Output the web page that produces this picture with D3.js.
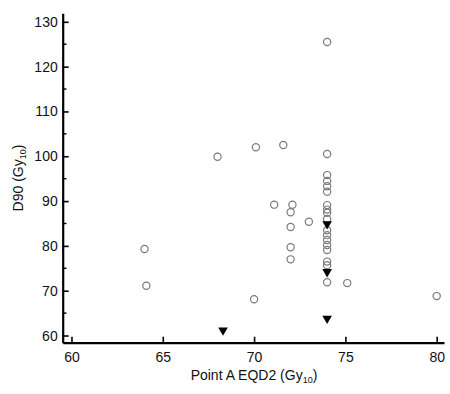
<!DOCTYPE html>
<html>
<head>
<meta charset="utf-8">
<script src="https://cdn.jsdelivr.net/npm/d3@7"></script>
<style>
  body { margin: 0; background: #fff; }
  text { font-family: "Liberation Sans", Arial, sans-serif; }
</style>
</head>
<body>
<div id="chart"></div>
<script>
"use strict";

// open circles (x = Point A EQD2, y = D90)
const circleX = [64, 64.1, 68, 70.1, 70, 71.6, 71.1, 72.1, 72, 72, 72, 72, 73, 75.1, 80,
                 74, 74, 74, 74, 74, 74, 74, 74, 74, 74, 74, 74, 74, 74, 74, 74, 74, 74];
const circleY = [79.3, 71.1, 99.9, 102, 68.1, 102.5, 89.2, 89.2, 87.5, 84.2, 79.7, 77, 85.4, 71.7, 68.8,
                 125.5, 100.5, 95.8, 94.5, 93.3, 92.1, 89.1, 88.1, 87.4, 86.0, 83.5, 82.4, 81.3, 80.2, 79.1, 76.5, 75.7, 71.9];

// filled down triangles
const triX = [68.3, 74, 74, 74];
const triY = [61.2, 84.9, 74.2, 63.8];

const xTicks = [60, 65, 70, 75, 80];
const yTicks = [60, 70, 80, 90, 100, 110, 120, 130];
const yMinor = [65, 75, 85, 95, 105, 115, 125];

const width = 450, height = 394;

const svg = d3.select("#chart")
    .append("svg")
    .attr("width", width)
    .attr("height", height);

const x = d3.scaleLinear().domain([59.52, 80.4]).range([62.7, 444]);
const y = d3.scaleLinear().domain([58.4, 131.9]).range([342.7, 13.3]);

// x axis (ticks point inward)
const gx = svg.append("g")
    .attr("transform", "translate(0,342.7)")
    .call(d3.axisBottom(x).tickValues(xTicks).tickSizeInner(-6).tickSizeOuter(0).tickPadding(9));
gx.select(".domain").attr("stroke-width", 2.2);
gx.selectAll(".tick line").attr("stroke-width", 1.6);
gx.selectAll(".tick text").attr("font-size", 14).attr("fill", "#111")
    .attr("font-family", "'Liberation Sans', Arial, sans-serif");

// y axis
const gy = svg.append("g")
    .attr("transform", "translate(62.7,0)")
    .call(d3.axisLeft(y).tickValues(yTicks).tickSizeInner(-6).tickSizeOuter(0).tickPadding(5));
gy.select(".domain").attr("stroke-width", 2.2);
gy.selectAll(".tick line").attr("stroke-width", 1.6);
gy.selectAll(".tick text").attr("font-size", 14).attr("fill", "#111")
    .attr("font-family", "'Liberation Sans', Arial, sans-serif");

// y minor ticks
svg.append("g")
    .selectAll("line")
    .data(yMinor)
    .enter().append("line")
    .attr("x1", 62.7).attr("x2", 66.5)
    .attr("y1", d => y(d)).attr("y2", d => y(d))
    .attr("stroke", "#000").attr("stroke-width", 1.4);

// axis titles
const xt = svg.append("text")
    .attr("x", 254).attr("y", 380)
    .attr("text-anchor", "middle")
    .attr("font-size", 14).attr("fill", "#111");
xt.append("tspan").text("Point A EQD2 (Gy");
xt.append("tspan").attr("font-size", 9).attr("dy", 3).text("10");
xt.append("tspan").attr("dy", -3).text(")");

const yt = svg.append("text")
    .attr("transform", "translate(23,178) rotate(-90)")
    .attr("text-anchor", "middle")
    .attr("font-size", 14).attr("fill", "#111");
yt.append("tspan").text("D90 (Gy");
yt.append("tspan").attr("font-size", 9).attr("dy", 3).text("10");
yt.append("tspan").attr("dy", -3).text(")");

// circles
svg.append("g")
    .selectAll("circle")
    .data(circleX.map((d, i) => [d, circleY[i]]))
    .enter().append("circle")
    .attr("cx", d => x(d[0]))
    .attr("cy", d => y(d[1]))
    .attr("r", 3.6)
    .attr("fill", "none")
    .attr("stroke", "#7a7a7a")
    .attr("stroke-width", 1.2);

// triangles
svg.append("g")
    .selectAll("path")
    .data(triX.map((d, i) => [d, triY[i]]))
    .enter().append("path")
    .attr("d", d3.symbol().type(d3.symbolTriangle).size(40))
    .attr("transform", d => `translate(${x(d[0])},${y(d[1])}) rotate(180)`)
    .attr("fill", "#000");
</script>
</body>
</html>
